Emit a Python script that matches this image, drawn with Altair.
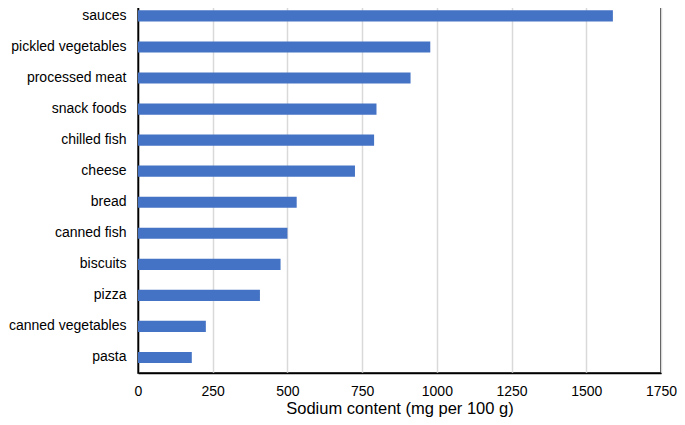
import altair as alt
import pandas as pd

categories = ["sauces", "pickled vegetables", "processed meat", "snack foods",
              "chilled fish", "cheese", "bread", "canned fish", "biscuits",
              "pizza", "canned vegetables", "pasta"]
sodium = [1589, 978, 912, 798, 790, 726, 531, 500, 477, 408, 227, 180]
x_ticks = [0, 250, 500, 750, 1000, 1250, 1500, 1750]

df = pd.DataFrame({"food": categories, "sodium": sodium})

FONT = "Liberation Sans"

bars = alt.Chart(df).mark_bar(color="#4472C4").encode(
    x=alt.X("sodium:Q",
            scale=alt.Scale(domain=[0, 1750], nice=False, zero=True),
            axis=alt.Axis(values=x_ticks, format="d",
                          title="Sodium content (mg per 100 g)",
                          grid=True, gridColor="#d9d9d9", gridWidth=1.5,
                          ticks=False, domain=True, domainColor="#000000",
                          domainWidth=1.5,
                          labelFont=FONT, labelFontSize=14, labelColor="#000000",
                          labelBaseline="alphabetic", labelPadding=22,
                          labelFlush=False,
                          titleFont=FONT, titleFontSize=16.5, titleFontWeight="normal",
                          titleColor="#000000", titleBaseline="alphabetic", titleY=40.5)),
    y=alt.Y("food:N", sort=categories,
            scale=alt.Scale(paddingInner=0.64, paddingOuter=0.32),
            axis=alt.Axis(title=None, ticks=False, domain=True,
                          domainColor="#000000", domainWidth=1.5, grid=False,
                          labelFont=FONT, labelFontSize=14, labelColor="#000000",
                          labelPadding=12, labelLimit=300)),
)

chart = bars.properties(
    width=523,
    height=372.6,
    autosize=alt.AutoSizeParams(type="none"),
    padding={"left": 130, "top": -7.6, "right": 16, "bottom": 44},
    background="#ffffff",
).configure_view(
    stroke="#000000",
    strokeWidth=1.5,
)

chart.save("out.html", embed_options={"renderer": "svg", "actions": False})
